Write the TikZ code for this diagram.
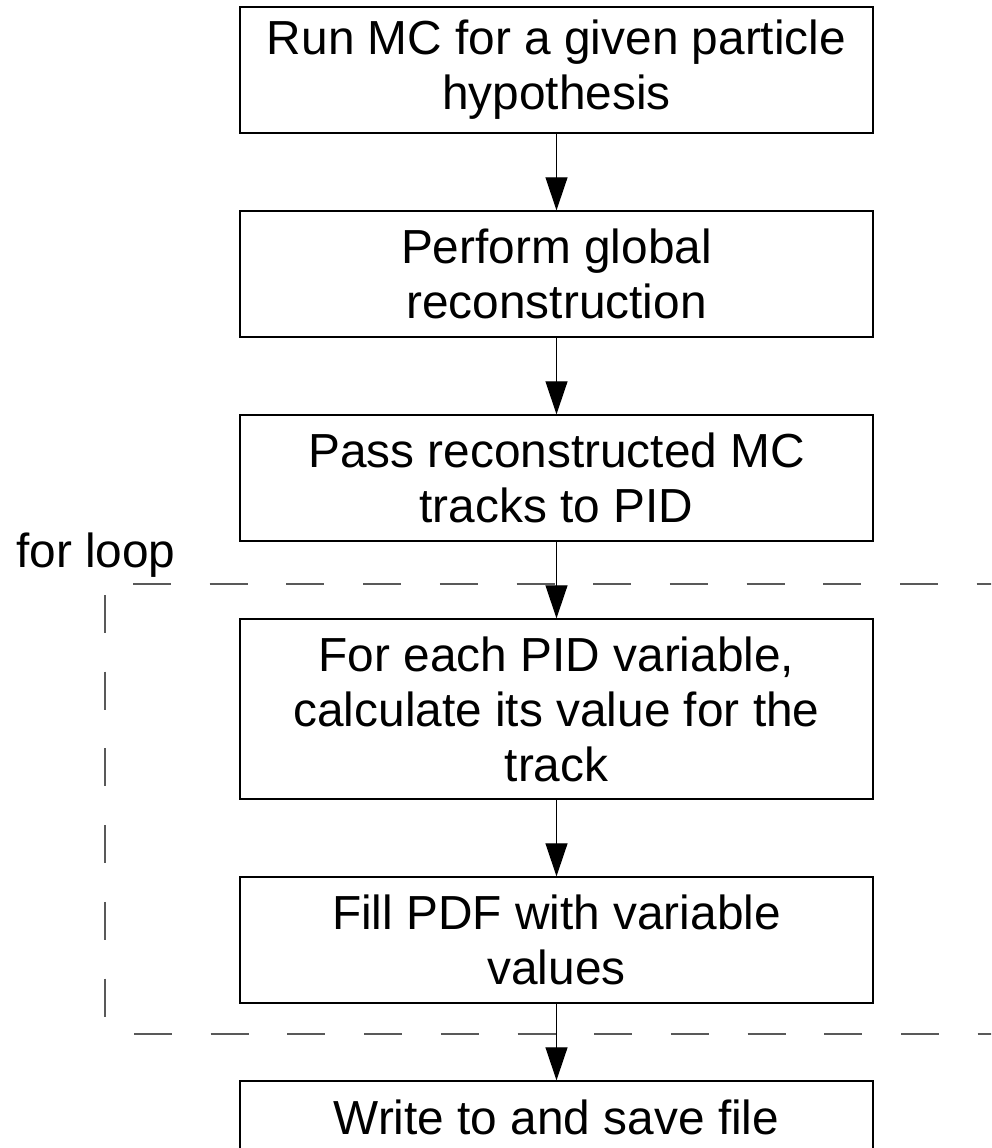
\documentclass[tikz,border=0pt]{standalone}
\usepackage{fontspec}
\setmainfont{Liberation Sans}
\usetikzlibrary{arrows.meta}
\tikzset{
  stepbox/.style={draw=black, line width=1.4pt, minimum width=633pt, align=center,
    inner sep=0pt, font=\fontsize{47.8pt}{55pt}\selectfont},
  arr/.style={draw=black, line width=1.2pt, -{Triangle[length=33pt,width=22pt]}},
  loopline/.style={draw=black!65, line width=1.1pt, dash pattern=on 38pt off 38.7pt},
  looplabel/.style={font=\fontsize{47.8pt}{55pt}\selectfont, inner sep=0pt, anchor=base west}
}
\begin{document}
\begin{tikzpicture}[x=1pt, y=-1pt]
\useasboundingbox (0,0) rectangle (991,1148);
\clip (0,0) rectangle (991,1148);
\fill[white] (0,0) rectangle (991,1148);

% loop frame
\draw[loopline] (133,584) -- (1010,584);
\draw[loopline] (134,1034) -- (1010,1034);
\draw[loopline] (105,595) -- (105,1018);
\node[looplabel] (loop) at (16,567) {for loop};

% boxes
\node[stepbox, minimum height=126pt] (b1) at (556.5,70) {Run MC for a given particle\\hypothesis};
\node[stepbox, minimum height=126pt] (b2) at (556.5,274) {Perform global\\reconstruction};
\node[stepbox, minimum height=126pt] (b3) at (556.5,478) {Pass reconstructed MC\\tracks to PID};
\node[stepbox, minimum height=180pt] (b4) at (556.5,709) {For each PID variable,\\calculate its value for the\\track};
\node[stepbox, minimum height=126pt] (b5) at (556.5,940) {Fill PDF with variable\\values};
\node[stepbox, minimum height=72pt] (b6) at (556.5,1117) {Write to and save file};

% arrows
\draw[arr] (b1) -- (b2);
\draw[arr] (b2) -- (b3);
\draw[arr] (b3) -- (b4);
\draw[arr] (b4) -- (b5);
\draw[arr] (b5) -- (b6);
\end{tikzpicture}
\end{document}
